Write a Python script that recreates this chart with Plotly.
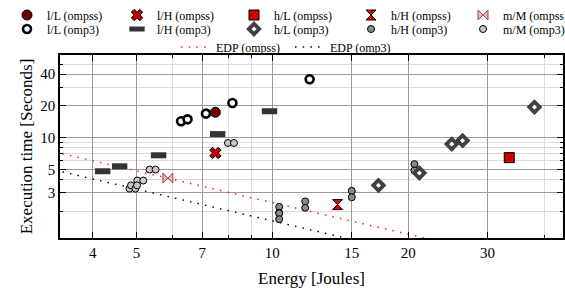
import math
import plotly.graph_objects as go

# ---------------- data ----------------
lL_ompss_E = [7.48]
lL_ompss_T = [17.4]
lH_ompss_E = [7.48]
lH_ompss_T = [7.14]
hL_ompss_E = [33.5]
hL_ompss_T = [6.45]
hH_ompss_E = [13.95]
hH_ompss_T = [2.31]
mM_ompss_E = [5.87]
mM_ompss_T = [4.13]

lL_omp3_E = [6.28, 6.49, 7.13, 8.16, 12.1]
lL_omp3_T = [14.3, 14.9, 16.9, 21.3, 35.8]
lH_omp3_E = [4.21, 4.59, 5.60, 7.57, 9.86]
lH_omp3_T = [4.79, 5.34, 6.79, 10.8, 17.8]
hL_omp3_E = [17.19, 21.18, 24.98, 26.4, 38.1]
hL_omp3_T = [3.52, 4.61, 8.69, 9.37, 19.5]
hH_omp3_E = [10.36, 10.36, 11.83, 15.0, 20.65]
hH_omp3_T = [2.05, 1.80, 2.31, 2.91, 5.22]
mM_omp3_E = [4.90, 4.94, 5.10, 5.43, 8.10]
mM_omp3_T = [3.28, 3.52, 3.91, 4.97, 8.89]

edp_E = [3.3, 46.0]
edp_ompss_T = [7.32, 0.525]
edp_omp3_T = [4.91, 0.352]

x_tick_vals = [4, 5, 7, 10, 15, 20, 30]
x_tick_text = ["4", "5", "7", "10", "15", "20", "30"]
x_minor_vals = [6, 8, 9, 40]
y_tick_vals = [3, 5, 10, 20, 40]
y_tick_text = ["3", "5", "10", "20", "40"]
y_minor_vals = [2, 4, 6, 7, 8, 9, 30, 50]

# ---------------- layout constants ----------------
W, H = 565, 288
M_L, M_R, M_T, M_B = 60, 2, 55, 50
X_RANGE = [3.386, 44.07]
Y_RANGE = [1.113, 60.87]
FONT = "Liberation Serif"
plot_w = W - M_L - M_R
plot_h = H - M_T - M_B
xdec_per_px = (math.log10(X_RANGE[1]) - math.log10(X_RANGE[0])) / plot_w
ydec_per_px = (math.log10(Y_RANGE[1]) - math.log10(Y_RANGE[0])) / plot_h
fx = 10 ** (3.0 * xdec_per_px)   # horizontal half-offset for twin circles
fy = 10 ** (3.2 * ydec_per_px)   # vertical half-offset for twin circles

# legend slot pixel positions (symbol centre x, row centre y)
COL_X = [27, 137, 254, 371, 483]
ROW_Y = [15, 29]
EDP_X = [196, 310]
EDP_Y = 47

fig = go.Figure()

# EDP lines
fig.add_trace(go.Scatter(x=edp_E, y=edp_ompss_T, mode="lines", name="EDP (ompss)",
                         line=dict(color="#ff2020", width=1.5, dash="1.5px,6.2px"),
                         legend="legend11", showlegend=True))
fig.add_trace(go.Scatter(x=edp_E, y=edp_omp3_T, mode="lines", name="EDP (omp3)",
                         line=dict(color="black", width=1.5, dash="1.5px,6.2px"),
                         legend="legend12", showlegend=True))

# omp3 series (row 2)
fig.add_trace(go.Scatter(
    x=[e / fx for e in mM_omp3_E] + [e * fx for e in mM_omp3_E],
    y=mM_omp3_T + mM_omp3_T, mode="markers", name="m/M (omp3)",
    marker=dict(symbol="circle", size=7, color="#c8c8c8", line=dict(color="black", width=1)),
    legend="legend10", showlegend=True))
fig.add_trace(go.Scatter(
    x=hH_omp3_E + hH_omp3_E,
    y=[t * fy for t in hH_omp3_T] + [t / fy for t in hH_omp3_T], mode="markers", name="h/H (omp3)",
    marker=dict(symbol="circle", size=7, color="#8a8a8a", line=dict(color="black", width=1)),
    legend="legend9", showlegend=True))
fig.add_trace(go.Scatter(
    x=lH_omp3_E, y=lH_omp3_T, mode="markers", name="l/H (omp3)",
    marker=dict(symbol="line-ew", size=11, color="#333333", line=dict(color="#333333", width=6)),
    legend="legend7", showlegend=True))
fig.add_trace(go.Scatter(
    x=lL_omp3_E, y=lL_omp3_T, mode="markers", name="l/L (omp3)",
    marker=dict(symbol="circle", size=8, color="white", line=dict(color="black", width=2.6)),
    legend="legend6", showlegend=True))
fig.add_trace(go.Scatter(
    x=hL_omp3_E, y=hL_omp3_T, mode="markers", name="h/L (omp3)",
    marker=dict(symbol="diamond", size=8, color="white", line=dict(color="#404040", width=3.8)),
    legend="legend8", showlegend=True))

# ompss series (row 1)
fig.add_trace(go.Scatter(
    x=mM_ompss_E, y=mM_ompss_T, mode="markers", name="m/M (ompss)",
    marker=dict(symbol="bowtie", size=10, color="#f5b0b0", line=dict(color="#8a5050", width=1)),
    legend="legend5", showlegend=True))
fig.add_trace(go.Scatter(
    x=hH_ompss_E, y=hH_ompss_T, mode="markers", name="h/H (ompss)",
    marker=dict(symbol="hourglass", size=10, color="#e00000", line=dict(color="black", width=1)),
    legend="legend4", showlegend=True))
fig.add_trace(go.Scatter(
    x=hL_ompss_E, y=hL_ompss_T, mode="markers", name="h/L (ompss)",
    marker=dict(symbol="square", size=10, color="#cc0000", line=dict(color="black", width=1)),
    legend="legend3", showlegend=True))
fig.add_trace(go.Scatter(
    x=lH_ompss_E, y=lH_ompss_T, mode="markers", name="l/H (ompss)",
    marker=dict(symbol="x", size=10, color="#c00000", line=dict(color="black", width=1)),
    legend="legend2", showlegend=True))
fig.add_trace(go.Scatter(
    x=lL_ompss_E, y=lL_ompss_T, mode="markers", name="l/L (ompss)",
    marker=dict(symbol="circle", size=10, color="#6e0000", line=dict(color="black", width=1)),
    legend="legend", showlegend=True))


def legend_cfg(sym_x, px_center_y):
    px_left = sym_x - 20
    return dict(
        x=(px_left - M_L) / plot_w, y=(H - M_B - px_center_y) / plot_h,
        xref="paper", yref="paper", xanchor="left", yanchor="middle",
        orientation="v", bgcolor="rgba(0,0,0,0)", borderwidth=0,
        font=dict(family=FONT, size=12, color="black"),
        tracegroupgap=0, itemwidth=30, visible=True,
    )


legends = {}
names = ["legend"] + ["legend%d" % i for i in range(2, 11)]
for i, nm in enumerate(names):
    legends[nm] = legend_cfg(COL_X[i % 5], ROW_Y[i // 5])
legends["legend11"] = legend_cfg(EDP_X[0], EDP_Y)
legends["legend12"] = legend_cfg(EDP_X[1], EDP_Y)

axis_common = dict(
    type="log", showline=True, linecolor="black", linewidth=1.5, mirror="ticks",
    ticks="inside", ticklen=6, tickwidth=1, tickcolor="black", automargin=False,
    showgrid=True, gridcolor="#9a9a9a", gridwidth=1, zeroline=False,
    tickfont=dict(family=FONT, size=15, color="black"),
)

fig.update_layout(
    width=W, height=H, showlegend=True,
    margin=dict(l=M_L, r=M_R, t=M_T, b=M_B, autoexpand=False),
    paper_bgcolor="white", plot_bgcolor="white",
    font=dict(family=FONT, color="black"),
    xaxis=dict(
        axis_common, range=[math.log10(X_RANGE[0]), math.log10(X_RANGE[1])],
        tickmode="array", tickvals=x_tick_vals, ticktext=x_tick_text,
        minor=dict(tickmode="array", tickvals=x_minor_vals, ticks="inside", ticklen=3,
                   tickcolor="black", showgrid=True, gridcolor="#dcdcdc", gridwidth=1),
        title=dict(text="Energy [Joules]", font=dict(family=FONT, size=17, color="black"), standoff=12),
    ),
    yaxis=dict(
        axis_common, range=[math.log10(Y_RANGE[0]), math.log10(Y_RANGE[1])],
        tickmode="array", tickvals=y_tick_vals, ticktext=y_tick_text,
        minor=dict(tickmode="array", tickvals=y_minor_vals, ticks="inside", ticklen=3,
                   tickcolor="black", showgrid=True, gridcolor="#dcdcdc", gridwidth=1),
        title=dict(text="Execution time [Seconds]", font=dict(family=FONT, size=17, color="black"), standoff=3),
    ),
    **legends,
)
fig.update_xaxes(automargin=True)

fig.write_html("out.html", config={"displayModeBar": False},
               post_script="document.body.style.margin='0';document.body.style.padding='0';")
